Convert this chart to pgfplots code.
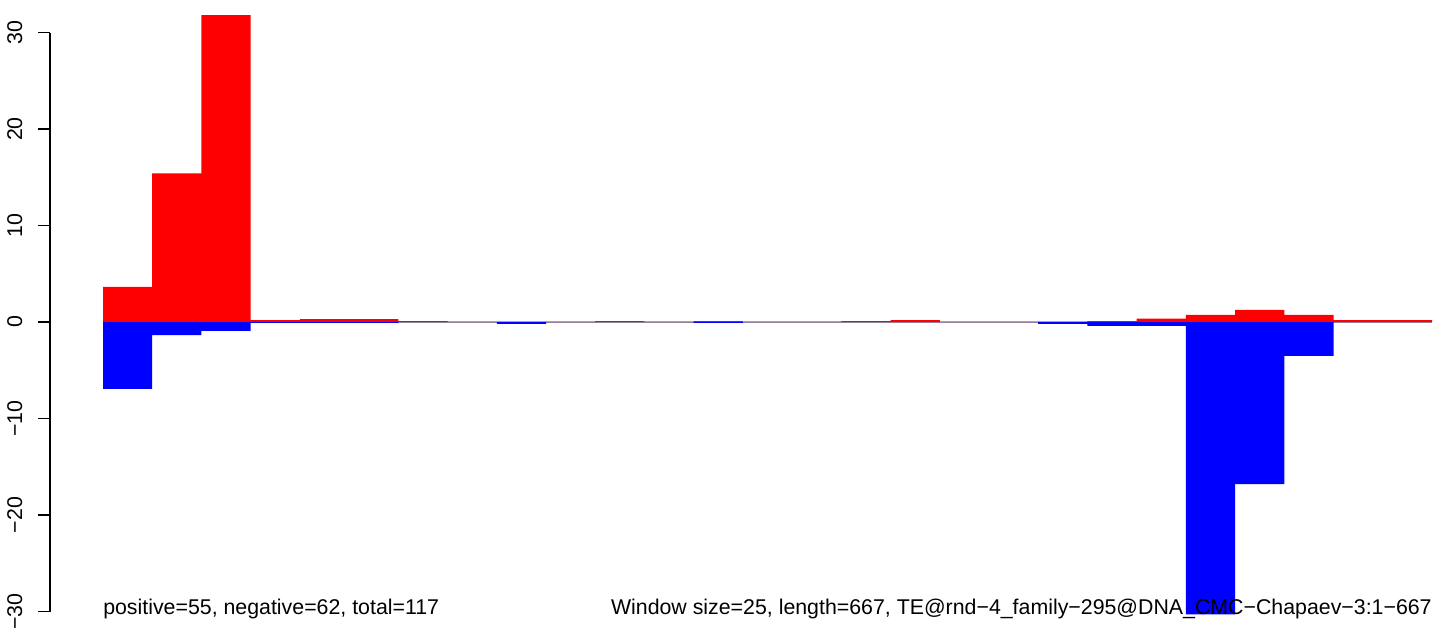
\documentclass[border=0pt]{standalone}
\usepackage{pgfplots}
\pgfplotsset{compat=1.18}
\usepackage{fontspec}
\setmainfont{Liberation Sans}

\begin{document}
\begin{tikzpicture}
\fontsize{16}{19}\selectfont
\begin{axis}[
	scale only axis,
	width=1083pt, height=475.5pt,
	xmin=-2.0926, xmax=27.244,
	ymin=-32.33, ymax=33.37,
	hide axis,
	clip=false,
]
	% frame of the whole figure (1444 x 634 px)
	\path (rel axis cs:0,0) rectangle (rel axis cs:1,1);
	% zero line
	\addplot[color=black!35, line width=1.1pt] coordinates {(0,0)(27,0)};
	% positive counts
	\addplot[ybar, bar width=1, bar shift=0, fill=red, draw=none]
		coordinates {
			(0.5,3.63)(1.5,15.4)(2.5,31.8)(3.5,0.2)(4.5,0.3)(5.5,0.3)(6.5,0.1)(7.5,0)(8.5,0)
			(9.5,0)(10.5,0.1)(11.5,0)(12.5,0.1)(13.5,0)(14.5,0)(15.5,0.1)(16.5,0.2)(17.5,0)
			(18.5,0)(19.5,0)(20.5,0.1)(21.5,0.35)(22.5,0.75)(23.5,1.27)(24.5,0.75)(25.5,0.2)(26.5,0.2)
		};
	% negative counts
	\addplot[ybar, bar width=1, bar shift=0, fill=blue, draw=none]
		coordinates {
			(0.5,-6.94)(1.5,-1.35)(2.5,-0.93)(3.5,-0.1)(4.5,-0.1)(5.5,-0.1)(6.5,0)(7.5,0)(8.5,-0.2)
			(9.5,0)(10.5,0)(11.5,0)(12.5,-0.1)(13.5,0)(14.5,0)(15.5,0)(16.5,0)(17.5,0)
			(18.5,0)(19.5,-0.2)(20.5,-0.4)(21.5,-0.4)(22.5,-30.3)(23.5,-16.8)(24.5,-3.5)(25.5,0)(26.5,0)
		};
	% y axis drawn R-style
	\draw[line width=0.8pt] (axis cs:-1.0768,-30) -- (axis cs:-1.0768,30);
	\draw[line width=0.8pt] (axis cs:-1.0768,-30) -- (axis cs:-1.3206,-30);
	\draw[line width=0.8pt] (axis cs:-1.0768,-20) -- (axis cs:-1.3206,-20);
	\draw[line width=0.8pt] (axis cs:-1.0768,-10) -- (axis cs:-1.3206,-10);
	\draw[line width=0.8pt] (axis cs:-1.0768,0) -- (axis cs:-1.3206,0);
	\draw[line width=0.8pt] (axis cs:-1.0768,10) -- (axis cs:-1.3206,10);
	\draw[line width=0.8pt] (axis cs:-1.0768,20) -- (axis cs:-1.3206,20);
	\draw[line width=0.8pt] (axis cs:-1.0768,30) -- (axis cs:-1.3206,30);
	\node[rotate=90, anchor=base, inner sep=0pt] at (axis cs:-1.6456,-30) {−30};
	\node[rotate=90, anchor=base, inner sep=0pt] at (axis cs:-1.6456,-20) {−20};
	\node[rotate=90, anchor=base, inner sep=0pt] at (axis cs:-1.6456,-10) {−10};
	\node[rotate=90, anchor=base, inner sep=0pt] at (axis cs:-1.6456,0) {0};
	\node[rotate=90, anchor=base, inner sep=0pt] at (axis cs:-1.6456,10) {10};
	\node[rotate=90, anchor=base, inner sep=0pt] at (axis cs:-1.6456,20) {20};
	\node[rotate=90, anchor=base, inner sep=0pt] at (axis cs:-1.6456,30) {30};
	\node[anchor=base west, inner sep=0pt] at (axis cs:0,-30.3)
		{positive=55, negative=62, total=117};
	\node[anchor=base east, inner sep=0pt] at (axis cs:27,-30.3)
		{Window size=25, length=667, TE@rnd−4\_family−295@DNA\_CMC−Chapaev−3:1−667};
\end{axis}
\end{tikzpicture}
\end{document}
